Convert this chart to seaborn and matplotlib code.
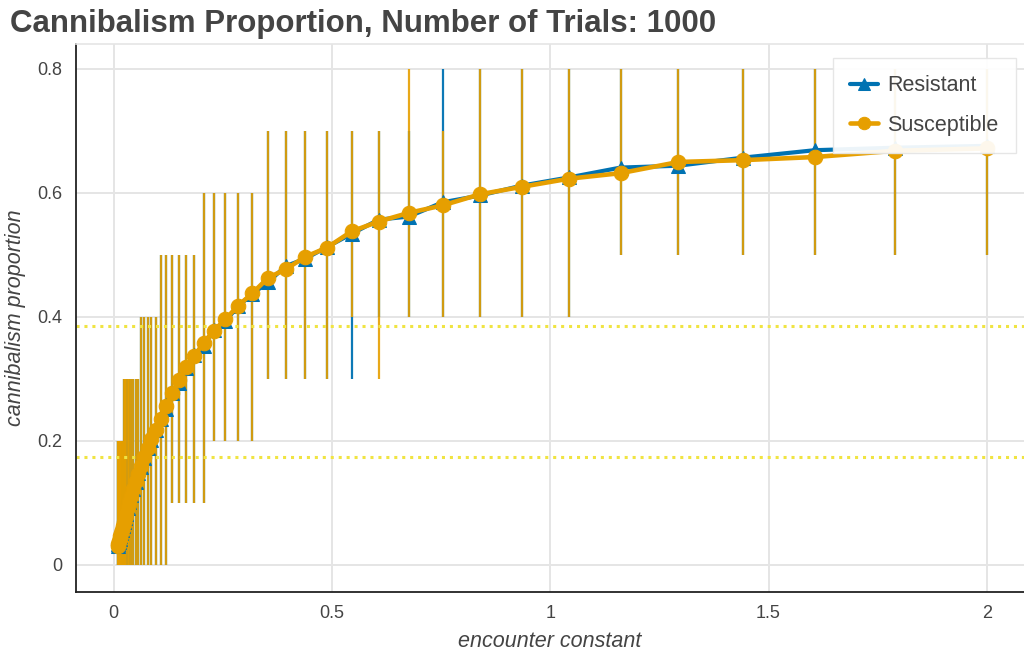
import matplotlib
matplotlib.use("Agg")
import matplotlib.pyplot as plt
import seaborn as sns
import pandas as pd

# encounter constants sampled on a log grid
encounter = [0.01, 0.0111, 0.0124, 0.0138, 0.0154, 0.0172, 0.0191, 0.0213, 0.0237, 0.0265,
             0.0295, 0.0328, 0.0366, 0.0408, 0.0454, 0.0506, 0.0564, 0.0628, 0.0699, 0.0779,
             0.0868, 0.0967, 0.1078, 0.1201, 0.1338, 0.1490, 0.1660, 0.1850, 0.2061, 0.2296,
             0.2558, 0.2850, 0.3175, 0.3537, 0.3941, 0.4391, 0.4892, 0.5450, 0.6072, 0.6765,
             0.7537, 0.8397, 0.9355, 1.0422, 1.1612, 1.2937, 1.4413, 1.6058, 1.7890, 2.0]

resistant_mean = [0.030, 0.034, 0.037, 0.042, 0.047, 0.051, 0.056, 0.063, 0.070, 0.076,
                  0.083, 0.092, 0.102, 0.113, 0.122, 0.134, 0.148, 0.158, 0.173, 0.189,
                  0.201, 0.217, 0.235, 0.252, 0.278, 0.294, 0.318, 0.338, 0.354, 0.379,
                  0.393, 0.417, 0.437, 0.456, 0.482, 0.494, 0.513, 0.534, 0.557, 0.562,
                  0.585, 0.596, 0.612, 0.625, 0.641, 0.644, 0.657, 0.669, 0.673, 0.676]

susceptible_mean = [0.031, 0.034, 0.038, 0.042, 0.046, 0.051, 0.057, 0.063, 0.069, 0.076,
                    0.084, 0.093, 0.102, 0.112, 0.123, 0.135, 0.147, 0.160, 0.174, 0.188,
                    0.203, 0.218, 0.236, 0.256, 0.277, 0.298, 0.320, 0.337, 0.358, 0.378,
                    0.396, 0.418, 0.438, 0.463, 0.477, 0.497, 0.512, 0.538, 0.554, 0.568,
                    0.580, 0.598, 0.610, 0.623, 0.632, 0.650, 0.653, 0.658, 0.668, 0.672]

# range of proportions over the trials
resistant_min = [0.0, 0.0, 0.0, 0.0, 0.0, 0.0, 0.0, 0.0, 0.0, 0.0,
                 0.0, 0.0, 0.0, 0.0, 0.0, 0.0, 0.0, 0.0, 0.0, 0.0,
                 0.0, 0.0, 0.0, 0.0, 0.1, 0.1, 0.1, 0.1, 0.1, 0.2,
                 0.2, 0.2, 0.2, 0.3, 0.3, 0.3, 0.3, 0.3, 0.4, 0.4,
                 0.4, 0.4, 0.4, 0.4, 0.5, 0.5, 0.5, 0.5, 0.5, 0.5]
resistant_max = [0.2, 0.2, 0.2, 0.2, 0.2, 0.2, 0.2, 0.2, 0.3, 0.3,
                 0.3, 0.3, 0.3, 0.3, 0.3, 0.3, 0.3, 0.4, 0.4, 0.4,
                 0.4, 0.4, 0.5, 0.5, 0.5, 0.5, 0.5, 0.5, 0.6, 0.6,
                 0.6, 0.6, 0.6, 0.7, 0.7, 0.7, 0.7, 0.7, 0.7, 0.7,
                 0.8, 0.8, 0.8, 0.8, 0.8, 0.8, 0.8, 0.8, 0.8, 0.8]
susceptible_min = [0.0, 0.0, 0.0, 0.0, 0.0, 0.0, 0.0, 0.0, 0.0, 0.0,
                   0.0, 0.0, 0.0, 0.0, 0.0, 0.0, 0.0, 0.0, 0.0, 0.0,
                   0.0, 0.0, 0.0, 0.0, 0.1, 0.1, 0.1, 0.1, 0.1, 0.2,
                   0.2, 0.2, 0.2, 0.3, 0.3, 0.3, 0.3, 0.4, 0.3, 0.4,
                   0.4, 0.4, 0.4, 0.4, 0.5, 0.5, 0.5, 0.5, 0.5, 0.5]
susceptible_max = [0.2, 0.2, 0.2, 0.2, 0.2, 0.2, 0.2, 0.2, 0.3, 0.3,
                   0.3, 0.3, 0.3, 0.3, 0.3, 0.3, 0.3, 0.4, 0.4, 0.4,
                   0.4, 0.4, 0.5, 0.5, 0.5, 0.5, 0.5, 0.5, 0.6, 0.6,
                   0.6, 0.6, 0.6, 0.7, 0.7, 0.7, 0.7, 0.7, 0.7, 0.8,
                   0.7, 0.8, 0.8, 0.8, 0.8, 0.8, 0.8, 0.8, 0.8, 0.8]

reference_levels = [0.385, 0.174]

x_ticks = [0, 0.5, 1, 1.5, 2]
x_tick_labels = ["0", "0.5", "1", "1.5", "2"]
y_ticks = [0, 0.2, 0.4, 0.6, 0.8]
y_tick_labels = ["0", "0.2", "0.4", "0.6", "0.8"]

BLUE = "#0072B2"
ORANGE = "#E69F00"
YELLOW = "#F0E442"
TEXT = "#444444"
GRID = "#e5e5e5"

sns.set_style("white")
plt.rcParams["font.family"] = ["Liberation Sans", "DejaVu Sans"]

fig = plt.figure(figsize=(10.24, 6.58), dpi=100)
ax = fig.add_axes([76 / 1024, 1 - 592 / 658, 1 - 76 / 1024, (592 - 44) / 658])

df = pd.DataFrame({
    "encounter": encounter,
    "resistant": resistant_mean,
    "susceptible": susceptible_mean,
})

# error ranges
ax.vlines(encounter, resistant_min, resistant_max, color=BLUE, lw=1.6, alpha=0.95, zorder=2)
ax.vlines(encounter, susceptible_min, susceptible_max, color=ORANGE, lw=1.6, alpha=0.9, zorder=2.1)

# reference levels
for lvl in reference_levels:
    ax.axhline(lvl, color=YELLOW, lw=2.2, ls=(0, (1, 1.6)), zorder=2.5)

sns.lineplot(data=df, x="encounter", y="resistant", ax=ax, color=BLUE, lw=3.0,
             marker="^", markersize=10, markeredgecolor=BLUE, label="Resistant", zorder=3)
sns.lineplot(data=df, x="encounter", y="susceptible", ax=ax, color=ORANGE, lw=3.3,
             marker="o", markersize=10.5, markeredgecolor=ORANGE, label="Susceptible", zorder=4)

ax.set_xlim(-0.0859, 2.085)
ax.set_ylim(-0.04355, 0.8403)

ax.set_xticks(x_ticks)
ax.set_xticklabels(x_tick_labels)
ax.set_yticks(y_ticks)
ax.set_yticklabels(y_tick_labels)
ax.set_xticks([t / 10 for t in range(0, 21) if t % 5], minor=True)
ax.set_yticks([-0.04] + [t / 100 for t in range(4, 84, 4) if t % 20], minor=True)

ax.tick_params(axis="both", which="major", direction="out", length=6, width=1.1,
               color="#222222", labelcolor=TEXT, labelsize=13, pad=4)
ax.tick_params(axis="both", which="minor", direction="out", length=4, width=1.1,
               color="#222222")
ax.tick_params(axis="x", which="major", pad=3)

ax.grid(True, which="major", color=GRID, lw=1.4)
ax.set_axisbelow(True)

for side in ("left", "bottom"):
    ax.spines[side].set_color("#222222")
    ax.spines[side].set_linewidth(1.3)
ax.spines["top"].set_color(GRID)
ax.spines["top"].set_linewidth(1.2)
ax.spines["right"].set_visible(False)

ax.set_xlabel("encounter constant", fontsize=15.5, style="italic", color=TEXT, labelpad=7)
ax.set_ylabel("cannibalism proportion", fontsize=15.5, style="italic", color=TEXT, labelpad=8)

fig.text(10 / 1024, 1 - 24 / 658, "Cannibalism Proportion, Number of Trials: 1000",
         fontsize=22.5, fontweight="bold", color=TEXT, ha="left", va="center")

leg = ax.legend(loc="upper right", bbox_to_anchor=(1016 / 1024, 1 - 58 / 658),
                bbox_transform=fig.transFigure, borderaxespad=0, fontsize=15.5,
                frameon=True, handlelength=1.3, handletextpad=0.45, borderpad=0.8,
                labelspacing=0.85, fancybox=False, labelcolor=TEXT, markerscale=0.85)
leg.get_frame().set_facecolor("white")
leg.get_frame().set_alpha(0.93)
leg.get_frame().set_edgecolor(GRID)
leg.get_frame().set_linewidth(1.0)

fig.savefig("out.png", dpi=100)
